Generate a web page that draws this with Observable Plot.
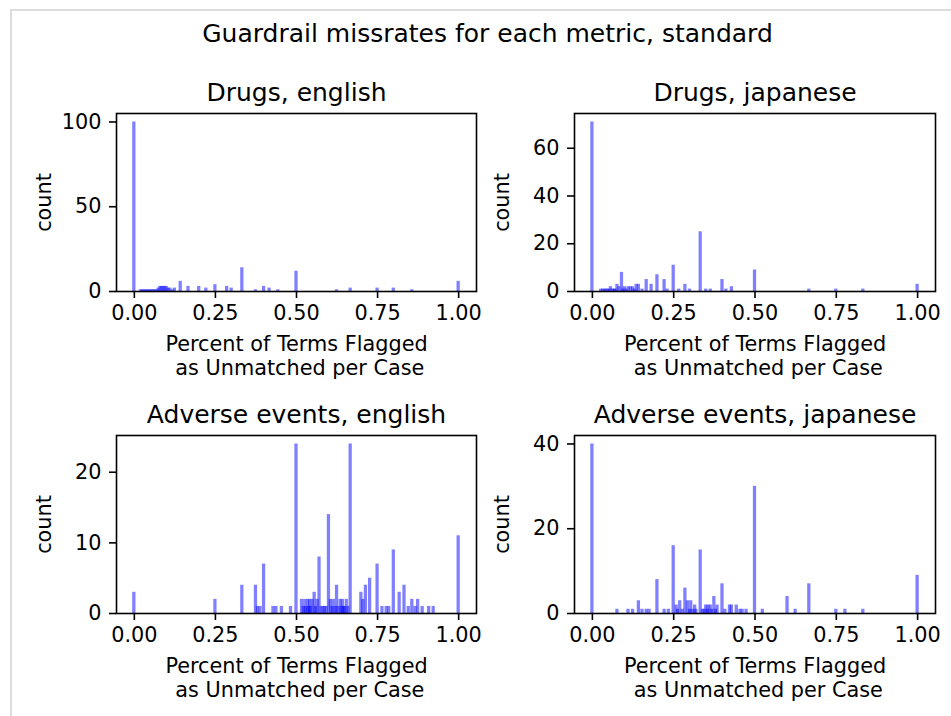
<!DOCTYPE html>
<html>
<head>
<meta charset="utf-8">
<script src="https://cdn.jsdelivr.net/npm/d3@7"></script>
<script src="https://cdn.jsdelivr.net/npm/@observablehq/plot@0.6"></script>
<style>
  body { margin: 0; background: #fff; }
  #fig { position: relative; width: 951px; height: 716px; overflow: hidden; font-family: "DejaVu Sans"; background: #fff; }
  #border { position: absolute; left: 10px; top: 9px; width: 1000px; height: 1000px; border-left: 2px solid #dcdcdc; border-top: 2px solid #dcdcdc; }
  #suptitle { position: absolute; left: 0; top: 21px; width: 975px; text-align: center; font-size: 25px; line-height: 25px; color: #000; font-family: "DejaVu Sans"; }
  svg text, svg tspan { white-space: pre; }
</style>
</head>
<body>
<div id="fig">
  <div id="border"></div>
  <div id="suptitle">Guardrail missrates for each metric, standard</div>
</div>
<script>
// ---- data ----
const xTicks = [0, 0.25, 0.5, 0.75, 1];
const xLabel = "Percent of Terms Flagged\n as Unmatched per Case";
const yLabel = "count";

const drugsEnglishValues = [0, 0.02, 0.025, 0.03, 0.035, 0.04, 0.045, 0.05, 0.055, 0.06, 0.065, 0.07, 0.075, 0.08, 0.085, 0.09, 0.095, 0.1, 0.105, 0.111, 0.118, 0.125, 0.143, 0.167, 0.2, 0.222, 0.25, 0.286, 0.3, 0.333, 0.375, 0.4, 0.417, 0.444, 0.5, 0.625, 0.667, 0.75, 0.8, 0.857, 1];
const drugsEnglishCounts = [100, 1, 1, 1, 1, 1, 1, 1, 1, 1, 1, 1, 2, 3, 3, 3, 3, 3, 2, 2, 1, 2, 6, 3, 3, 2, 4, 3, 2, 14, 1, 3, 2, 1, 12, 1, 2, 2, 2, 1, 6];
const drugsEnglishYTicks = [0, 50, 100];

const drugsJapaneseValues = [0, 0.027, 0.033, 0.038, 0.043, 0.048, 0.053, 0.057, 0.063, 0.068, 0.071, 0.077, 0.083, 0.091, 0.095, 0.1, 0.105, 0.111, 0.118, 0.125, 0.13, 0.136, 0.143, 0.154, 0.167, 0.182, 0.2, 0.222, 0.231, 0.25, 0.267, 0.286, 0.3, 0.333, 0.35, 0.364, 0.4, 0.412, 0.429, 0.5, 0.667, 0.75, 0.833, 1];
const drugsJapaneseCounts = [71, 1, 1, 1, 1, 1, 1, 2, 1, 1, 1, 3, 2, 8, 1, 2, 1, 2, 2, 2, 1, 3, 3, 1, 5, 3, 7, 5, 1, 11, 1, 3, 1, 25, 1, 1, 5, 1, 2, 9, 1, 1, 1, 3];
const drugsJapaneseYTicks = [0, 20, 40, 60];

const adverseEnglishValues = [0, 0.25, 0.333, 0.375, 0.381, 0.389, 0.4, 0.429, 0.438, 0.455, 0.483, 0.5, 0.517, 0.522, 0.527, 0.53, 0.536, 0.538, 0.542, 0.545, 0.55, 0.556, 0.56, 0.565, 0.571, 0.577, 0.583, 0.588, 0.593, 0.6, 0.606, 0.611, 0.615, 0.621, 0.625, 0.63, 0.636, 0.64, 0.643, 0.647, 0.65, 0.655, 0.66, 0.667, 0.7, 0.706, 0.714, 0.727, 0.75, 0.765, 0.778, 0.786, 0.8, 0.818, 0.833, 0.846, 0.857, 0.867, 0.875, 0.889, 0.909, 0.923, 1];
const adverseEnglishCounts = [3, 2, 4, 4, 1, 1, 7, 1, 1, 1, 1, 24, 2, 1, 2, 1, 2, 1, 2, 1, 2, 3, 1, 2, 8, 1, 1, 1, 1, 14, 2, 1, 2, 1, 4, 1, 2, 1, 2, 1, 1, 2, 1, 24, 3, 2, 4, 5, 7, 1, 1, 1, 9, 3, 4, 1, 2, 1, 2, 1, 1, 1, 11];
const adverseEnglishYTicks = [0, 10, 20];

const adverseJapaneseValues = [0, 0.077, 0.111, 0.125, 0.143, 0.154, 0.167, 0.176, 0.2, 0.222, 0.235, 0.25, 0.259, 0.263, 0.27, 0.278, 0.286, 0.294, 0.3, 0.304, 0.31, 0.316, 0.32, 0.333, 0.34, 0.345, 0.35, 0.355, 0.357, 0.364, 0.368, 0.375, 0.38, 0.385, 0.4, 0.409, 0.423, 0.429, 0.444, 0.455, 0.462, 0.474, 0.5, 0.524, 0.6, 0.625, 0.667, 0.75, 0.778, 0.833, 1];
const adverseJapaneseCounts = [40, 1, 1, 1, 3, 1, 1, 1, 8, 1, 1, 16, 2, 1, 3, 1, 6, 3, 1, 3, 1, 2, 1, 15, 1, 1, 2, 1, 2, 2, 1, 4, 1, 2, 7, 1, 2, 2, 2, 1, 1, 1, 30, 1, 4, 1, 7, 1, 1, 1, 9];
const adverseJapaneseYTicks = [0, 20, 40];

// ---- drawing ----
const HALF = 0.005;            // half bin width in data units
const fig = document.getElementById("fig");

function panel({title, values, counts, yTicks, left, top, frameWidth}) {
  const rows = values.map((v, i) => ({v, c: counts[i]}));
  const yMax = d3.max(counts) * 1.05;
  const marginLeft = 116, marginTop = 50, frameHeight = 178, marginBottom = 100, width = 490;
  const chart = Plot.plot({
    width,
    height: marginTop + frameHeight + marginBottom,
    marginLeft,
    marginRight: width - marginLeft - frameWidth,
    marginTop,
    marginBottom,
    style: {fontFamily: "DejaVu Sans", fontSize: "20.8px", background: "transparent", overflow: "visible", color: "#000"},
    x: {domain: [-0.055, 1.055]},
    y: {domain: [0, yMax]},
    marks: [
      Plot.rect(rows, {x1: d => d.v - HALF, x2: d => d.v + HALF, y1: 0, y2: "c", fill: "blue", fillOpacity: 0.5}),
      Plot.axisX({ticks: xTicks, tickFormat: d3.format(".2f"), tickSize: 7, tickPadding: 7, strokeWidth: 1.6, label: null}),
      Plot.axisY({ticks: yTicks, tickFormat: d3.format("d"), tickSize: 7, tickPadding: 8, strokeWidth: 1.6, label: null}),
      Plot.frame({stroke: "black", strokeWidth: 1.6}),
      Plot.text([title], {frameAnchor: "top", lineAnchor: "bottom", dy: -12.5, fontSize: 25}),
      Plot.text([xLabel], {frameAnchor: "bottom", lineAnchor: "top", dy: 42, fontSize: 20.8, lineHeight: 1.154}),
      Plot.text([yLabel], {frameAnchor: "left", rotate: -90, dx: -72.5, textAnchor: "middle", lineAnchor: "middle", fontSize: 20.8})
    ]
  });
  chart.style.position = "absolute";
  chart.style.left = left + "px";
  chart.style.top = top + "px";
  fig.appendChild(chart);
}

panel({title: "Drugs, english", values: drugsEnglishValues, counts: drugsEnglishCounts, yTicks: drugsEnglishYTicks, left: 0, top: 63, frameWidth: 360});
panel({title: "Drugs, japanese", values: drugsJapaneseValues, counts: drugsJapaneseCounts, yTicks: drugsJapaneseYTicks, left: 458, top: 63, frameWidth: 361});
panel({title: "Adverse events, english", values: adverseEnglishValues, counts: adverseEnglishCounts, yTicks: adverseEnglishYTicks, left: 0, top: 385, frameWidth: 360});
panel({title: "Adverse events, japanese", values: adverseJapaneseValues, counts: adverseJapaneseCounts, yTicks: adverseJapaneseYTicks, left: 458, top: 385, frameWidth: 361});
</script>
</body>
</html>
